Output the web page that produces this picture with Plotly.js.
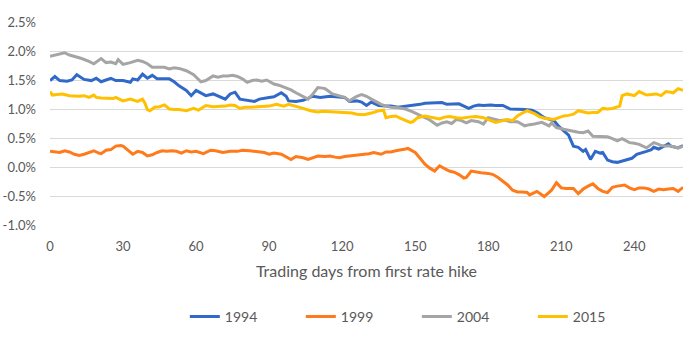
<!DOCTYPE html>
<html>
<head>
<meta charset="utf-8">
<script src="https://cdn.plot.ly/plotly-3.0.1.min.js"></script>
<style>html,body{margin:0;padding:0;background:#fff;}#chart{width:700px;height:347px;}</style>
</head>
<body>
<div id="chart"></div>
<script>
// Trading days from first rate hike and values (%) per hiking cycle
const days1994 = [0,2,4,7,9,11,14,17,19,21,23,25,27,30,33,34,36,38,40,42,44,47,49,51,53,56,58,60,62,64,67,69,72,74,76,78,80,82,84,86,88,90,92,95,97,98,101,104,108,111,115,118,121,123,126,128,130,132,135,138,140,143,147,149,152,154,157,159,161,163,166,168,170,172,174,176,178,181,183,186,189,192,195,198,200,203,205,207,209,211,213,215,217,219,220,222,224,226,227,229,231,233,235,237,239,241,243,245,247,248,250,252,254,255,257,258,260];
const vals1994 = [1.49,1.56,1.49,1.48,1.50,1.59,1.51,1.49,1.53,1.47,1.50,1.53,1.49,1.49,1.46,1.52,1.50,1.60,1.53,1.58,1.52,1.52,1.52,1.47,1.40,1.32,1.23,1.32,1.28,1.23,1.26,1.22,1.17,1.26,1.29,1.17,1.16,1.14,1.13,1.17,1.19,1.20,1.21,1.28,1.22,1.14,1.13,1.15,1.22,1.20,1.22,1.21,1.20,1.13,1.14,1.12,1.06,1.12,1.06,1.05,1.05,1.03,1.05,1.06,1.08,1.10,1.10,1.11,1.11,1.08,1.09,1.09,1.05,1.01,1.05,1.07,1.06,1.07,1.06,1.06,1.00,1.00,0.99,0.98,0.94,0.85,0.82,0.80,0.70,0.62,0.55,0.36,0.34,0.27,0.30,0.13,0.27,0.24,0.25,0.12,0.09,0.08,0.10,0.13,0.15,0.22,0.24,0.27,0.30,0.34,0.31,0.36,0.40,0.36,0.34,0.33,0.37];

const days1999 = [0,2,4,6,8,10,12,14,16,18,20,21,23,25,27,29,30,32,34,36,38,40,42,44,46,48,50,52,54,56,58,60,63,66,68,71,74,77,79,82,85,88,90,92,95,97,99,101,104,106,108,110,113,115,117,119,121,123,126,129,131,133,135,136,138,140,142,144,146,147,148,150,152,154,156,158,160,162,164,166,168,170,171,173,175,177,180,182,184,186,188,190,192,194,196,197,199,200,203,205,206,208,210,212,215,217,219,221,223,225,227,229,231,233,236,238,240,242,244,246,248,250,252,254,256,258,260];
const vals1999 = [0.27,0.26,0.25,0.28,0.26,0.22,0.20,0.22,0.25,0.28,0.24,0.23,0.29,0.30,0.36,0.37,0.36,0.29,0.22,0.27,0.25,0.19,0.21,0.25,0.28,0.27,0.28,0.27,0.24,0.28,0.26,0.27,0.23,0.29,0.28,0.25,0.27,0.27,0.29,0.28,0.26,0.25,0.22,0.24,0.22,0.18,0.13,0.18,0.16,0.13,0.16,0.19,0.18,0.19,0.17,0.16,0.18,0.19,0.20,0.22,0.23,0.25,0.23,0.22,0.26,0.26,0.28,0.29,0.31,0.32,0.30,0.25,0.15,0.05,-0.02,-0.07,0.02,-0.03,-0.07,-0.09,-0.13,-0.19,-0.18,-0.07,-0.09,-0.10,-0.11,-0.13,-0.18,-0.25,-0.31,-0.40,-0.43,-0.43,-0.44,-0.48,-0.43,-0.42,-0.51,-0.43,-0.40,-0.27,-0.36,-0.37,-0.37,-0.46,-0.38,-0.33,-0.29,-0.37,-0.42,-0.44,-0.35,-0.33,-0.31,-0.36,-0.39,-0.36,-0.36,-0.38,-0.42,-0.38,-0.39,-0.38,-0.37,-0.42,-0.35];

const days2004 = [0,2,4,6,8,11,13,16,18,21,23,25,27,28,30,33,36,38,40,42,45,47,49,51,53,56,59,62,64,67,69,71,73,75,77,79,81,83,85,87,89,92,94,97,99,101,103,106,108,110,112,113,116,118,121,123,126,128,130,132,134,136,138,140,143,146,149,151,153,156,159,161,163,165,167,169,171,173,176,178,180,183,185,187,189,192,195,197,199,202,205,206,208,211,214,217,219,221,223,226,229,231,233,235,238,240,242,245,248,250,251,253,255,258,260];
const vals2004 = [1.91,1.93,1.95,1.97,1.93,1.90,1.87,1.82,1.78,1.87,1.80,1.81,1.78,1.85,1.77,1.80,1.84,1.82,1.78,1.72,1.72,1.72,1.69,1.71,1.70,1.66,1.59,1.47,1.49,1.57,1.55,1.57,1.57,1.58,1.56,1.52,1.46,1.49,1.50,1.48,1.50,1.43,1.41,1.37,1.33,1.28,1.24,1.17,1.26,1.37,1.36,1.35,1.26,1.24,1.20,1.14,1.22,1.25,1.22,1.17,1.12,1.08,1.05,1.03,1.02,1.00,0.95,0.91,0.86,0.81,0.72,0.76,0.78,0.75,0.82,0.80,0.76,0.80,0.78,0.74,0.85,0.82,0.80,0.81,0.78,0.78,0.71,0.73,0.74,0.77,0.71,0.76,0.68,0.65,0.62,0.60,0.59,0.62,0.53,0.53,0.52,0.49,0.45,0.49,0.42,0.41,0.39,0.33,0.42,0.39,0.37,0.36,0.36,0.33,0.36];

const days2015 = [0,1,3,5,8,10,12,14,16,18,19,21,24,26,27,30,33,36,38,39,40,41,43,45,47,49,51,53,56,58,59,61,64,67,70,72,74,76,78,80,82,85,88,90,93,96,98,101,104,107,110,112,115,118,121,124,126,129,132,135,137,138,140,142,144,146,148,149,151,154,156,158,160,162,164,167,169,172,175,178,180,183,186,188,190,192,194,196,199,201,203,205,207,209,211,213,215,217,219,221,223,225,227,229,231,233,234,235,237,239,240,242,243,245,247,249,251,253,255,256,258,260];
const vals2015 = [1.30,1.24,1.25,1.26,1.23,1.22,1.22,1.23,1.20,1.24,1.20,1.19,1.18,1.18,1.20,1.14,1.17,1.13,1.17,1.10,0.99,0.97,1.03,1.04,1.07,1.00,0.99,0.99,0.97,1.00,1.01,0.98,1.06,1.04,1.05,1.05,1.07,1.06,1.01,1.03,1.03,1.04,1.04,1.05,1.08,1.05,1.08,1.05,1.01,0.97,0.95,0.96,0.95,0.94,0.93,0.93,0.91,0.90,0.93,0.97,0.98,0.85,0.87,0.88,0.84,0.81,0.77,0.78,0.85,0.88,0.86,0.84,0.83,0.86,0.87,0.85,0.84,0.86,0.87,0.85,0.82,0.77,0.80,0.82,0.80,0.88,0.93,0.97,0.92,0.87,0.84,0.83,0.82,0.85,0.88,0.89,0.91,0.97,0.95,0.93,0.94,0.94,1.01,1.00,1.01,1.03,1.05,1.23,1.26,1.24,1.23,1.30,1.28,1.24,1.25,1.26,1.23,1.30,1.29,1.28,1.35,1.32];

const seriesNames = ['1994','1999','2004','2015'];
const seriesColors = ['#3169C9','#FF7A1A','#A5A5A5','#FFC000'];
const xTicks = [0,30,60,90,120,150,180,210,240];
const yTicks = [-1.0,-0.5,0.0,0.5,1.0,1.5,2.0,2.5];

const allDays = [days1994, days1999, days2004, days2015];
const allVals = [vals1994, vals1999, vals2004, vals2015];

const font = 'Lato, "Open Sans", "Liberation Sans", sans-serif';
const traces = seriesNames.map((n, i) => ({
  type: 'scatter', mode: 'lines', name: n,
  x: allDays[i], y: allVals[i],
  line: {color: seriesColors[i], width: 3}
}));

const layout = {
  width: 700, height: 347,
  margin: {l: 50, r: 17, t: 22, b: 122, autoexpand: false},
  paper_bgcolor: '#fff', plot_bgcolor: '#fff',
  font: {family: font, color: '#595959', size: 13},
  showlegend: true,
  legend: {orientation: 'h', x: 0.213, xanchor: 'left', yref: 'container', y: 0.087, yanchor: 'middle',
           font: {size: 14, color: '#595959'}, tracegroupgap: 0,
           entrywidth: 71, entrywidthmode: 'pixels'},
  xaxis: {
    range: [0, 260], tickvals: xTicks, ticktext: xTicks.map(String),
    showgrid: false, zeroline: false, showline: false,
    ticks: '', ticklabelstandoff: 12,
    tickfont: {size: 13, color: '#595959'},
    title: {text: 'Trading days from first rate hike', font: {size: 16, color: '#595959'}, standoff: 12}
  },
  yaxis: {
    range: [-1.0, 2.5], tickvals: yTicks, ticktext: yTicks.map(v => v.toFixed(1) + '%'),
    showgrid: true, gridcolor: '#D9D9D9', gridwidth: 1,
    zeroline: false, showline: false, ticks: '', ticklabelstandoff: 13,
    tickfont: {size: 13, color: '#595959'}
  }
};

Plotly.newPlot('chart', traces, layout, {displayModeBar: false, staticPlot: true});
</script>
</body>
</html>
